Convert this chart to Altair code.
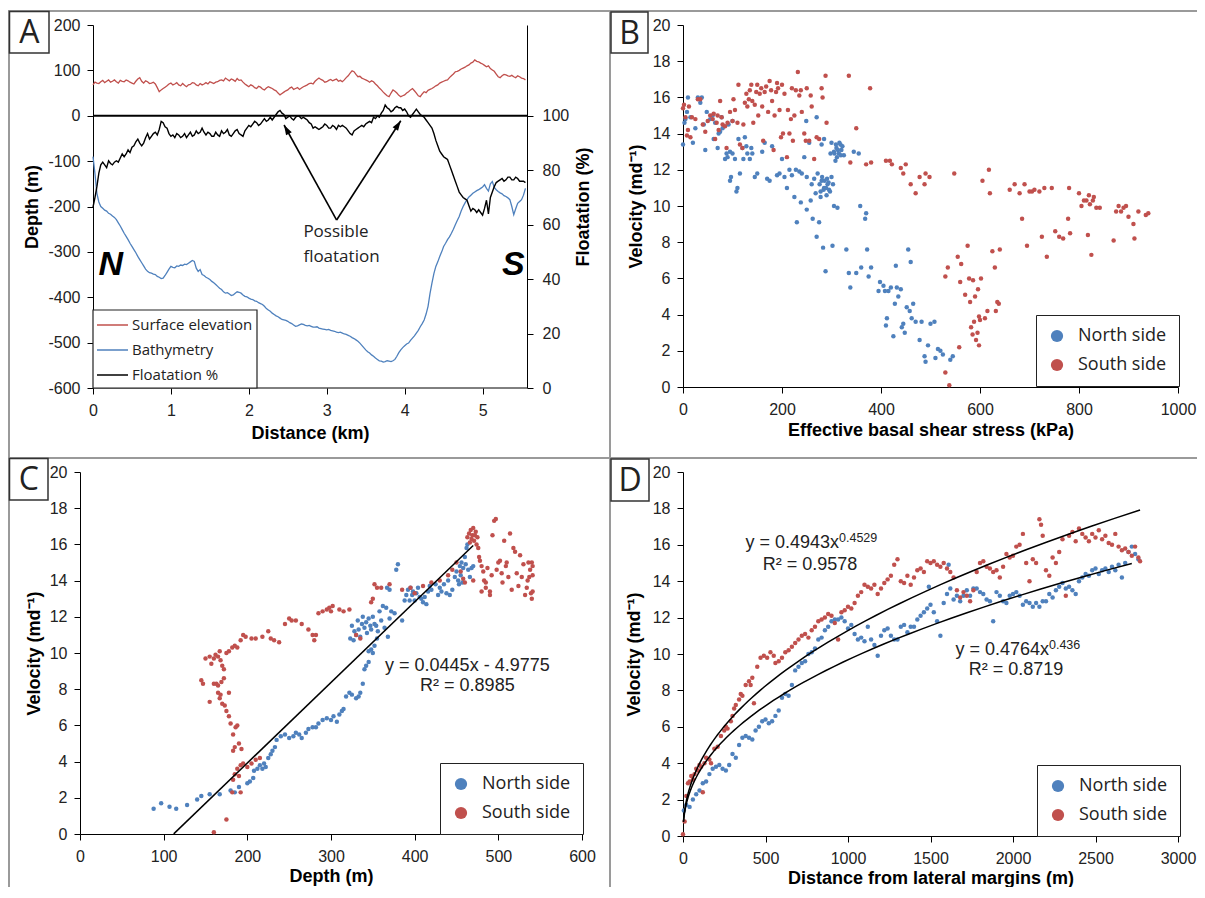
import altair as alt
import numpy as np
import pandas as pd

# ---------------- Panel A data (read from the profile) ----------------
dist_km = [0.000,0.025,0.050,0.075,0.100,0.125,0.150,0.175,0.200,0.225,0.250,0.275,0.300,0.325,0.350,0.375,0.400,0.425,0.450,0.475,
           0.500,0.525,0.550,0.575,0.600,0.625,0.650,0.675,0.700,0.725,0.750,0.775,0.800,0.825,0.850,0.875,0.900,0.925,0.950,0.975,
           1.000,1.025,1.050,1.075,1.100,1.125,1.150,1.175,1.200,1.225,1.250,1.275,1.300,1.325,1.350,1.375,1.400,1.425,1.450,1.475,
           1.500,1.525,1.550,1.575,1.600,1.625,1.650,1.675,1.700,1.725,1.750,1.775,1.800,1.825,1.850,1.875,1.900,1.925,1.950,1.975,
           2.000,2.025,2.050,2.075,2.100,2.125,2.150,2.175,2.200,2.225,2.250,2.275,2.300,2.325,2.350,2.375,2.400,2.425,2.450,2.475,
           2.500,2.525,2.550,2.575,2.600,2.625,2.650,2.675,2.700,2.725,2.750,2.775,2.800,2.825,2.850,2.875,2.900,2.925,2.950,2.975,
           3.000,3.025,3.050,3.075,3.100,3.125,3.150,3.175,3.200,3.225,3.250,3.275,3.300,3.325,3.350,3.375,3.400,3.425,3.450,3.475,
           3.500,3.525,3.550,3.575,3.600,3.625,3.650,3.675,3.700,3.725,3.750,3.775,3.800,3.825,3.850,3.875,3.900,3.925,3.950,3.975,
           4.000,4.025,4.050,4.075,4.100,4.125,4.150,4.175,4.200,4.225,4.250,4.275,4.300,4.325,4.350,4.375,4.400,4.425,4.450,4.475,
           4.500,4.525,4.550,4.575,4.600,4.625,4.650,4.675,4.700,4.725,4.750,4.775,4.800,4.825,4.850,4.875,4.900,4.925,4.950,4.975,
           5.000,5.025,5.050,5.075,5.100,5.125,5.150,5.175,5.200,5.225,5.250,5.275,5.300,5.325,5.350,5.375,5.400,5.425,5.450,5.475,
           5.500,5.525,5.550]
surface_m = [68,74,72,71,75,78,73,76,79,74,76,79,75,72,78,76,75,79,77,74,
             72,70,76,81,84,76,72,77,75,71,72,74,70,62,53,57,60,63,66,70,
             72,68,70,73,68,66,71,67,64,68,69,73,72,68,66,71,68,70,73,70,
             75,73,71,74,75,78,79,77,83,80,77,81,79,76,82,78,79,74,70,67,
             64,68,66,62,60,65,63,59,57,61,64,62,60,57,55,50,46,49,52,55,
             57,61,63,58,60,62,58,61,64,66,68,71,72,70,76,80,83,80,78,74,
             75,78,80,77,79,81,76,78,75,79,84,88,94,99,97,91,86,87,83,81,
             79,77,74,77,75,70,66,61,57,52,48,44,42,50,57,54,50,45,42,44,
             46,50,53,57,60,55,50,44,42,48,53,51,56,58,60,63,66,68,72,74,
             76,78,79,84,88,92,97,98,100,103,105,107,110,112,116,118,123,120,119,116,
             114,111,108,110,104,101,98,92,86,84,88,91,90,88,87,89,86,84,88,86,
             83,82,79]
bathymetry_m = [-90,-127,-171,-190,-200,-204,-208,-210,-215,-217,-221,-224,-229,-236,-243,-251,-259,-266,-273,-281,
                -288,-295,-302,-310,-317,-324,-331,-338,-343,-346,-347,-349,-350,-354,-356,-359,-358,-352,-345,-338,
                -332,-334,-335,-331,-332,-329,-330,-327,-328,-325,-322,-319,-321,-336,-343,-339,-350,-352,-356,-358,
                -361,-365,-368,-372,-376,-380,-383,-388,-391,-390,-393,-396,-395,-391,-388,-389,-391,-395,-398,-399,
                -402,-404,-405,-408,-409,-412,-414,-416,-420,-425,-428,-431,-435,-438,-441,-443,-446,-449,-450,-451,
                -453,-456,-458,-461,-464,-463,-461,-459,-460,-462,-463,-462,-464,-466,-466,-465,-468,-469,-470,-471,
                -472,-471,-473,-474,-475,-477,-478,-477,-479,-481,-482,-484,-486,-489,-491,-494,-497,-501,-506,-511,
                -516,-520,-523,-527,-530,-534,-537,-540,-541,-543,-542,-540,-541,-542,-540,-537,-530,-522,-516,-511,
                -507,-503,-501,-495,-490,-485,-479,-473,-465,-458,-450,-437,-420,-392,-369,-348,-332,-322,-310,-300,
                -288,-281,-273,-267,-259,-250,-240,-231,-222,-210,-200,-192,-185,-179,-175,-171,-168,-165,-163,-160,
                -157,-152,-160,-166,-150,-145,-158,-163,-167,-170,-172,-176,-178,-181,-185,-200,-218,-205,-193,-189,
                -185,-175,-160]
floatation_pct = [66.5,70,74,79,82,83,82,81,83.5,82.5,82,83,83.5,83,84.5,86,85,86,87.5,86.5,
                  88.5,89,90.5,91.5,90,89,90,92,93.5,91.5,92.5,93.5,94,93,95,98,97.5,96,95.5,93.5,
                  92.5,93,92,93.5,93,92,92.5,93.5,92,93,94,92.5,93,94.5,93.5,94,95.5,94,93,94,
                  93.5,92.5,92.5,94,93,92.5,94.5,93.5,94,95,93,92.5,93.5,94.5,95,93.5,93,92.5,94.5,95.5,
                  96.5,96,97,98,97.5,96.5,97,98,99,98,98.5,99.5,98.5,99.5,100.5,101.5,102,101,100.5,99,
                  99.5,100,99,98.5,99.5,100,99.8,99,99.5,99,98.5,97.5,97,95.5,96,95.5,95,95.5,96,97,
                  96.5,95.5,95.5,96.5,96,95,96.5,96,96.5,96,95.5,94.5,93.5,93,94.5,95,95.5,96,96.5,96,
                  97,97.5,98,97.5,99.5,99,100,99.5,101,102,104,103,102.5,101.5,102,103,103.5,103,103,102,
                  102.5,101.5,100,99.5,100.5,101.5,102.5,101.5,100.5,100,99.5,98.5,97.5,96.5,95.5,93.5,91,89,87,86,
                  85,84.5,84,82,80,78,76,74,72,71,70,69.5,69,67,65,66,65.5,64.5,65.5,64.5,
                  63.5,66,69,64,70,72,74,75.5,76,76.5,77,76,76.5,77.5,77.5,76.5,76.5,77.5,77,76,
                  76,76,75.5]

# ---------------- Panel B data: (effective basal shear stress kPa, velocity m/d) ----------------
b_north = [(0,13.4),(3,14.6),(5,14.8),(8,15.2),(10,16.0),(15,14.9),(20,13.5),(25,14.3),(30,16.0),(35,15.7),
           (38,16.0),(42,14.5),(45,13.1),(48,15.2),(55,14.8),(60,15.0),(62,13.7),(65,14.6),(70,13.2),(72,14.0),
           (75,14.1),(78,14.9),(80,14.3),(85,12.6),(88,12.9),(90,12.7),(92,14.5),(95,13.0),(95,11.4),(97,11.6),
           (100,12.9),(100,14.7),(105,12.6),(108,10.8),(110,11.0),(112,13.7),(115,11.8),(120,13.2),(122,12.6),(125,13.8),
           (128,13.3),(130,12.9),(135,12.6),(138,13.2),(140,12.9),(145,11.6),(150,11.8),(160,13.0),(165,13.5),(170,11.5),
           (175,11.4),(180,13.3),(190,11.7),(195,11.8),(200,12.6),(205,11.6),(210,11.0),(215,12.0),(220,11.7),(225,10.5),
           (228,12.0),(230,9.1),(235,11.9),(238,10.2),(240,11.8),(245,12.7),(249,14.7),(250,11.6),(250,9.8),(255,13.5),
           (258,10.3),(260,11.2),(262,9.3),(265,11.5),(268,10.7),(270,8.3),(270,14.9),(272,11.8),(275,9.1),(276,11.2),
           (278,10.8),(278,10.5),(280,11.4),(280,13.4),(281,11.6),(283,7.7),(284,10.9),(285,11.0),(285,13.7),(286,11.4),
           (288,6.4),(289,11.0),(290,10.6),(291,11.5),(292,11.2),(294,11.3),(295,10.9),(297,10.8),(298,12.9),(300,11.6),
           (300,13.5),(302,7.8),(303,11.2),(305,10.0),(305,13.0),(306,12.9),(308,12.5),(309,13.4),(310,13.2),(311,12.7),
           (312,9.9),(313,13.1),(315,12.9),(316,13.5),(318,13.4),(319,12.8),(320,13.1),(322,13.3),(325,12.8),(330,7.6),
           (335,6.3),(338,5.5),(345,13.0),(350,6.3),(355,12.9),(358,10.0),(360,6.6),(368,9.3),(370,9.6),(372,7.6),
           (375,6.1),(380,6.6),(395,5.3),(398,5.8),(405,5.6),(408,5.3),(410,3.4),(412,3.8),(415,5.3),(420,5.5),
           (425,2.8),(428,4.6),(430,6.7),(432,5.5),(435,5.0),(440,5.4),(442,3.3),(445,3.5),(448,3.0),(452,4.4),
           (455,7.6),(458,4.2),(460,6.9),(462,3.8),(465,4.6),(470,3.6),(478,2.6),(482,3.6),(488,1.7),(490,1.4),
           (495,2.3),(500,3.5),(508,3.6),(510,1.6),(515,2.1),(520,2.0),(525,1.8),(540,1.5),(545,1.7)]
b_south = [(0,15.4),(2,15.6),(5,14.9),(8,13.9),(10,14.2),(12,15.5),(15,13.8),(18,14.9),(25,14.8),(30,15.9),
           (35,15.9),(40,14.5),(45,14.1),(50,14.7),(55,15.0),(60,14.8),(62,15.1),(65,13.7),(68,14.6),(70,15.0),
           (72,14.2),(75,15.8),(78,14.9),(80,14.5),(85,14.4),(88,13.2),(90,14.6),(95,15.2),(100,14.7),(102,15.9),
           (105,15.3),(110,14.6),(112,16.7),(115,13.4),(120,13.2),(122,14.5),(125,15.7),(128,16.2),(130,15.5),(133,15.9),
           (135,16.4),(138,16.7),(140,15.8),(142,14.6),(145,15.6),(148,16.3),(150,16.7),(152,15.0),(155,16.2),(158,16.5),
           (160,15.5),(162,13.6),(165,16.3),(168,16.6),(172,15.2),(175,16.9),(178,16.4),(180,15.8),(183,13.1),(185,15.0),
           (188,16.3),(190,16.8),(192,16.5),(195,15.3),(198,13.8),(200,16.7),(202,14.0),(205,16.2),(210,12.7),(212,15.3),
           (215,14.0),(218,14.8),(220,16.5),(222,13.6),(225,15.0),(228,16.4),(232,17.4),(235,16.1),(238,16.4),(240,15.2),
           (245,14.0),(248,13.6),(250,16.5),(255,13.6),(258,16.1),(260,15.5),(265,12.6),(270,13.8),(275,13.7),(280,16.5),
           (282,16.0),(288,17.2),(290,14.6),(335,17.2),(338,12.4),(350,14.3),(370,12.3),(378,16.5),(380,12.4),(410,12.5),
           (418,12.5),(422,12.3),(440,12.1),(445,11.8),(450,12.3),(460,11.2),(470,10.7),(478,11.6),(488,11.2),(490,11.8),
           (498,11.6),(530,6.1),(535,6.6),(548,11.8),(555,7.2),(560,5.8),(562,6.8),(570,5.1),(575,7.8),(578,6.0),
           (580,4.7),(582,3.3),(585,2.9),(586,5.9),(588,3.6),(590,5.0),(592,2.6),(595,3.0),(596,5.4),(598,3.9),
           (600,3.7),(602,6.0),(598,2.3),(605,11.4),(610,3.8),(615,4.2),(618,12.0),(620,10.7),(625,7.5),(630,6.6),
           (632,4.2),(635,4.7),(638,4.6),(640,7.6),(660,10.9),(670,11.2),(680,10.7),(685,9.3),(690,11.2),(695,7.8),
           (700,10.8),(705,10.8),(710,10.9),(720,10.8),(725,8.3),(730,11.0),(735,7.2),(745,11.0),(752,8.6),(760,8.3),
           (768,8.2),(778,9.3),(780,11.0),(782,8.5),(800,10.7),(805,10.0),(810,10.3),(815,10.3),(818,8.4),(820,10.6),
           (822,10.1),(825,7.3),(828,10.3),(830,10.5),(835,9.9),(842,9.9),(870,8.1),(875,9.7),(880,10.0),(885,9.7),
           (890,9.9),(895,10.0),(900,9.4),(910,9.0),(912,8.2),(920,9.7),(935,9.5),(940,9.6),(538,0.1),(530,0.8),(558,2.2)]

# ---------------- Panel C data: (depth m, velocity m/d) ----------------
c_north = [(88,1.4),(97,1.7),(107,1.5),(115,1.4),(128,1.6),(140,1.9),(145,2.1),(155,2.2),(167,2.2),(180,2.4),
           (185,2.3),(190,2.6),(200,2.8),(203,2.9),(207,3.1),(208,3.5),(212,3.6),(215,3.8),(218,3.6),(220,3.9),
           (222,3.7),(225,4.2),(228,4.4),(230,4.6),(233,4.8),(235,5.2),(240,5.4),(245,5.5),(250,5.3),(255,5.4),
           (258,5.6),(262,5.5),(265,5.3),(270,5.6),(273,5.8),(278,5.9),(282,5.9),(285,6.1),(290,6.3),(295,6.4),
           (300,6.3),(303,6.5),(307,6.2),(310,6.6),(313,6.8),(315,6.9),(318,7.6),(322,7.8),(325,7.7),(330,7.5),
           (333,7.6),(335,7.8),(338,8.3),(340,9.1),(342,9.3),(345,9.5),(345,10.1),(348,10.2),(350,10.0),(352,10.4),
           (355,10.8),(323,10.8),(325,11.5),(327,10.7),(328,11.2),(330,11.0),(332,11.8),(333,11.3),(335,10.9),(337,11.6),
           (338,12.0),(340,11.4),(342,11.7),(343,11.1),(345,11.9),(347,11.5),(348,11.3),(350,12.0),(352,11.6),(354,11.5),
           (356,11.2),(358,12.3),(360,11.8),(362,12.6),(364,11.4),(366,12.5),(368,10.9),(370,11.9),(372,12.3),(376,12.2),
           (380,14.9),(378,14.6),(385,11.8),(388,12.9),(390,13.2),(392,13.5),(394,12.9),(395,13.6),(397,13.2),(398,13.4),
           (400,12.9),(402,13.3),(404,13.6),(406,13.1),(408,13.0),(410,12.8),(412,13.1),(414,12.7),(416,13.4),(418,13.7),
           (420,13.5),(425,13.8),(428,13.2),(430,13.6),(432,13.4),(435,13.8),(438,13.3),(440,14.0),(442,13.2),(445,13.5),
           (448,14.2),(450,14.5),(452,14.0),(454,14.8),(455,14.3),(456,15.0),(458,14.7),(460,15.3),(461,14.9),(462,15.8),
           (463,16.0),(464,14.6),(466,14.2),(468,14.7),(470,14.8),(457,13.9),(453,13.8),(370,13.5),(367,13.6)]
c_south = [(160,0.1),(175,0.8),(182,2.3),(192,2.3),(183,3.0),(185,3.3),(188,3.6),(190,3.2),(192,3.8),(195,3.9),
           (200,3.7),(205,3.9),(210,4.1),(215,4.2),(183,4.6),(185,4.8),(190,5.0),(193,4.7),(183,5.5),(186,5.9),
           (188,6.0),(180,6.1),(178,6.5),(175,6.8),(173,7.1),(170,7.2),(167,7.5),(165,7.8),(168,7.7),(178,7.8),
           (155,7.3),(160,8.3),(163,8.3),(165,8.2),(169,8.4),(172,8.6),(145,8.5),(147,8.3),(150,9.7),(155,9.8),
           (157,9.4),(160,9.7),(162,9.9),(165,9.8),(167,10.1),(168,9.6),(170,9.3),(172,9.1),(175,10.0),(178,10.1),
           (182,10.3),(185,10.4),(188,10.3),(192,10.7),(195,11.0),(198,10.9),(205,10.8),(210,10.8),(218,10.9),(225,11.2),
           (228,10.8),(232,10.7),(238,10.6),(245,11.6),(250,11.9),(253,11.8),(258,11.8),(265,11.6),(273,11.3),(278,11.0),
           (280,10.7),(282,11.0),(285,12.2),(290,12.3),(295,12.4),(298,12.5),(300,12.3),(302,12.6),(310,12.4),(315,12.3),
           (322,12.4),(330,11.0),(335,10.8),(348,12.8),(350,13.0),(352,13.8),(355,13.6),(360,13.6),(370,13.8),(385,13.5),
           (395,13.6),(400,13.3),(410,13.7),(420,13.9),(430,14.0),(440,14.3),(445,14.6),(450,15.0),(455,14.5),(458,14.1),
           (460,13.9),(463,16.4),(465,16.6),(466,16.1),(467,16.8),(468,16.3),(469,16.5),(470,16.9),(471,16.2),(472,16.5),
           (473,16.7),(474,16.0),(475,16.4),(476,15.8),(477,15.3),(478,15.1),(480,14.8),(482,14.5),(483,14.0),(485,13.6),
           (487,14.7),(490,13.4),(492,14.3),(493,16.5),(495,17.3),(497,17.4),(498,14.6),(500,15.0),(502,15.1),(504,14.4),
           (505,13.9),(507,16.2),(509,14.8),(510,15.0),(512,14.2),(514,16.6),(516,13.5),(518,15.8),(520,15.6),(522,14.4),
           (524,13.7),(526,15.4),(528,14.2),(530,14.9),(532,13.2),(534,13.6),(536,15.0),(538,14.6),(540,15.0),(541,14.3),
           (541,13.4),(540,13.0),(539,13.3),(541,14.8),(537,14.2),(535,14.0),(490,13.2),(480,13.4),(470,14.0),(485,13.9)]

# ---------------- Panel D data: (distance from lateral margin m, velocity m/d) ----------------
d_north = [(5,1.4),(20,1.7),(40,1.6),(60,2.0),(80,2.3),(100,2.5),(120,2.9),(140,3.0),(160,3.4),(180,3.7),
           (200,3.8),(220,3.9),(240,3.7),(260,3.6),(280,3.9),(300,4.5),(320,4.3),(340,5.0),(360,5.4),(380,5.5),
           (400,5.4),(420,5.3),(440,5.8),(460,6.0),(480,6.3),(500,6.4),(520,6.2),(540,6.3),(560,6.6),(580,6.9),
           (600,7.6),(620,7.8),(640,7.7),(660,8.3),(680,9.1),(700,9.3),(720,9.5),(740,9.6),(760,10.0),(780,10.1),
           (800,10.3),(820,10.8),(840,10.9),(860,11.3),(880,11.5),(900,11.8),(920,11.9),(940,11.9),(960,12.0),(980,11.8),
           (1000,11.4),(1020,11.6),(1040,11.1),(1060,10.8),(1080,10.9),(1100,10.7),(1120,11.5),(1140,10.8),(1160,10.5),(1180,9.9),
           (1200,11.0),(1220,11.3),(1240,11.4),(1260,11.0),(1280,10.8),(1300,10.8),(1320,11.5),(1340,11.6),(1360,11.2),(1380,11.5),
           (1400,11.5),(1420,11.9),(1440,12.1),(1460,12.3),(1480,12.5),(1490,13.7),(1500,12.7),(1520,12.3),(1540,11.8),(1560,11.0),
           (1580,12.8),(1600,13.3),(1610,14.9),(1620,13.6),(1640,13.0),(1660,13.2),(1680,12.9),(1700,13.2),(1720,13.5),(1740,13.2),
           (1760,13.6),(1780,13.6),(1800,13.4),(1820,13.3),(1840,13.0),(1860,12.9),(1880,11.8),(1900,13.4),(1920,13.2),(1940,12.9),
           (1960,12.8),(1980,13.2),(2000,13.3),(2020,13.4),(2040,13.2),(2060,12.7),(2080,12.9),(2100,12.8),(2120,12.6),(2140,12.8),
           (2160,12.6),(2180,12.9),(2200,12.9),(2220,13.3),(2240,13.1),(2260,13.5),(2280,13.7),(2300,13.9),(2320,13.6),(2340,13.7),
           (2360,13.5),(2380,13.3),(2400,14.0),(2420,14.2),(2440,14.4),(2460,14.3),(2480,14.6),(2500,14.7),(2520,14.4),(2540,14.6),
           (2560,14.7),(2580,14.5),(2600,14.8),(2620,14.6),(2640,14.9),(2660,14.2),(2680,15.0),(2700,15.6),(2720,15.9),(2740,15.5),
           (2760,15.2)]
d_south = [(0,0.1),(10,0.8),(20,2.2),(30,2.9),(40,3.0),(50,3.3),(60,3.1),(70,3.4),(80,3.7),(90,3.6),
           (100,3.9),(110,3.8),(120,2.4),(130,4.0),(140,4.3),(160,4.2),(170,4.0),(190,4.8),(210,4.9),(230,5.5),
           (250,5.8),(260,6.0),(270,5.9),(290,6.3),(300,6.6),(310,7.0),(320,7.2),(340,7.5),(350,7.8),(360,7.7),
           (380,8.3),(400,8.5),(410,8.3),(420,8.7),(430,7.3),(450,9.3),(470,9.8),(490,9.9),(510,9.8),(530,10.1),
           (550,9.9),(560,9.5),(580,9.6),(600,9.8),(620,10.1),(640,10.2),(660,10.4),(680,10.6),(700,10.8),(720,11.0),
           (740,11.1),(760,10.9),(780,11.3),(800,11.5),(820,11.8),(840,11.9),(860,12.0),(880,12.2),(900,12.1),(920,11.7),
           (940,10.8),(960,12.3),(980,12.4),(1000,12.6),(1020,12.5),(1040,12.8),(1060,13.2),(1080,13.4),(1100,13.8),(1120,13.7),
           (1140,13.6),(1160,13.8),(1180,13.3),(1200,13.6),(1220,13.9),(1240,14.1),(1260,14.3),(1280,14.9),(1300,15.2),(1320,14.0),
           (1340,13.9),(1360,14.3),(1380,13.8),(1400,14.2),(1420,14.6),(1440,14.7),(1460,14.5),(1480,15.1),(1500,15.0),(1520,15.1),
           (1540,14.9),(1560,14.8),(1580,15.0),(1600,14.7),(1620,14.5),(1640,14.2),(1660,13.5),(1680,13.1),(1700,13.4),(1720,13.2),
           (1740,12.9),(1760,13.5),(1780,14.5),(1800,15.0),(1820,15.1),(1840,14.8),(1860,14.7),(1880,14.5),(1900,14.6),(1920,14.2),
           (1940,14.8),(1960,15.5),(1980,15.3),(2000,15.4),(2020,15.9),(2040,16.0),(2060,16.6),(2080,15.0),(2100,14.0),(2120,15.2),
           (2140,15.0),(2160,17.4),(2170,17.1),(2180,16.5),(2200,14.6),(2220,14.3),(2240,15.3),(2260,15.0),(2280,15.6),(2300,16.3),
           (2320,13.2),(2340,16.5),(2360,16.7),(2380,16.2),(2400,16.9),(2420,16.6),(2440,16.4),(2460,16.2),(2480,16.6),(2500,16.4),
           (2520,16.8),(2540,16.3),(2560,16.5),(2580,16.1),(2600,16.0),(2620,16.6),(2640,15.9),(2660,15.7),(2680,15.8),(2700,15.6),
           (2720,15.4),(2740,15.9),(2760,15.3),(2770,15.1)]

# fitted relations printed on panels C and D
c_fit_slope, c_fit_icpt, c_fit_range = 0.0445, -4.9775, [112, 470]
d_fit_south = (0.4943, 0.4529, 2770)
d_fit_north = (0.4764, 0.436, 2720)

# tick values
a_x_ticks = [0, 1, 2, 3, 4, 5]
a_y_ticks = [-600, -500, -400, -300, -200, -100, 0, 100, 200]
a_r_ticks = [0, 20, 40, 60, 80, 100]
vel_ticks = [0, 2, 4, 6, 8, 10, 12, 14, 16, 18, 20]
b_x_ticks = [0, 200, 400, 600, 800, 1000]
c_x_ticks = [0, 100, 200, 300, 400, 500, 600]
d_x_ticks = [0, 500, 1000, 1500, 2000, 2500, 3000]

# legend entries for panel A
a_series = ["Surface elevation", "Bathymetry", "Floatation %"]

# ---------------- styling ----------------
BLUE, RED = "#4F81BD", "#C0504D"
FONT, LFONT, TXT = "Liberation Sans", "Open Sans", "#222222"
FRAME = "#9a9a9a"
A_W, A_H = 447, 363
B_W, B_H = 495, 362
C_W, C_H = 502, 362
D_W, D_H = 495, 364
VEL_TITLE = "Velocity (md\u207b\u00b9)"


def mk_axis(values, title, orient, tx, ty, pad, angle, baseline, **extra):
    return alt.Axis(values=values, title=title, orient=orient, grid=False,
                    domainColor="black", domainWidth=1, tickColor="black", tickWidth=1, tickSize=6,
                    labelFont=FONT, labelFontSize=16, labelColor=TXT, labelPadding=pad,
                    labelFlush=False, labelExpr="'' + datum.value",
                    titleFont=FONT, titleFontSize=18, titleFontWeight="bold", titleColor="black",
                    titleX=tx, titleY=ty, titleAngle=angle, titleBaseline=baseline, titleAlign="center",
                    **extra)


def left_axis(values, title, h, tx, **extra):
    return mk_axis(values, title, "left", tx, h / 2, 7, 270, "bottom", **extra)


def bottom_axis(values, title, cx, ty, **extra):
    return mk_axis(values, title, "bottom", cx, ty, 8, 0, "alphabetic", **extra)


one = pd.DataFrame({"k": [0]})


def prect(x1, x2, y1, y2, **mk):
    return alt.Chart(one).mark_rect(**mk).encode(
        x=alt.value(x1), x2=alt.value(x2), y=alt.value(y1), y2=alt.value(y2))


def label_box(x1, x2, y1, y2, letter):
    box = prect(x1, x2, y1, y2, fill="white", stroke="#333333", strokeWidth=1.5)
    txt = alt.Chart(one).mark_text(text=letter, font=LFONT, fontSize=32, color=TXT,
                                   align="center", baseline="middle").encode(
        x=alt.value((x1 + x2) / 2), y=alt.value((y1 + y2) / 2 + 1))
    return [box, txt]


side_scale = alt.Scale(domain=["North side", "South side"], range=[BLUE, RED])


def side_legend(lx, ly):
    return alt.Legend(title=None, orient="none", legendX=lx, legendY=ly, direction="vertical",
                      fillColor="white", strokeColor="#222222", padding=12,
                      symbolType="circle", symbolSize=150, symbolStrokeWidth=0, symbolOpacity=1,
                      labelFont=LFONT, labelFontSize=18, labelColor=TXT, labelOffset=12, rowPadding=11)


def side_df(north, south, xname):
    rows = [(x, y, "North side") for x, y in north] + [(x, y, "South side") for x, y in south]
    return pd.DataFrame(rows, columns=[xname, "vel", "side"])


# ---------------- Panel A ----------------
xA = alt.X("km:Q", scale=alt.Scale(domain=[-0.16684, 5.57], nice=False, zero=False),
           axis=bottom_axis(a_x_ticks, "Distance (km)", 230, 50, domain=False))
yA = alt.Y("val:Q", scale=alt.Scale(domain=[-600, 200], nice=False, zero=False),
           axis=left_axis(a_y_ticks, "Depth (m)", A_H, -52, offset=-13))
yR = alt.Y("flt:Q", scale=alt.Scale(domain=[0, 133.4], nice=False, zero=False),
           axis=mk_axis(a_r_ticks, "Floatation (%)", "right", 47, A_H / 2, 9, 270, "top"))
series_scale = alt.Scale(domain=a_series, range=[RED, BLUE, "black"])
colA = alt.Color("series:N", scale=series_scale, legend=None)

lines_df = pd.concat([
    pd.DataFrame({"km": dist_km, "val": surface_m, "series": "Surface elevation"}),
    pd.DataFrame({"km": dist_km, "val": bathymetry_m, "series": "Bathymetry"}),
])
flt_df = pd.DataFrame({"km": dist_km, "flt": floatation_pct, "series": "Floatation %"})

a_lines = alt.Chart(lines_df).mark_line(strokeWidth=1.3).encode(x=xA, y=yA, color=colA, detail="series:N")
a_zero = alt.Chart(pd.DataFrame({"km": [0], "km2": [5.57], "val": [0]})).mark_rule(
    color="black", strokeWidth=1.8).encode(x=xA, x2="km2:Q", y=yA)
a_base = alt.Chart(pd.DataFrame({"km": [0], "km2": [5.57], "val": [-600]})).mark_rule(
    color="black", strokeWidth=1).encode(x=xA, x2="km2:Q", y=yA)
arrow_df = pd.DataFrame({"km": [3.127, 3.127], "val": [-229.8, -229.8],
                         "km2": [2.452, 3.95], "val2": [-20.4, -10.9]})
a_arrows = alt.Chart(arrow_df).mark_rule(color="black", strokeWidth=1.6).encode(
    x=xA, y=yA, x2="km2:Q", y2="val2:Q")
head_df = pd.DataFrame({"km": [2.452, 3.95], "val": [-20.4, -10.9], "ang": [331, 33]})
a_heads = alt.Chart(head_df).mark_point(shape="M0,0L-0.65,2L0.65,2Z", filled=True, size=100,
                                        color="black", opacity=1).encode(
    x=xA, y=yA, angle=alt.Angle("ang:Q", scale=None))
ann_df = pd.DataFrame({"km": [2.70, 2.70], "val": [-267, -322], "txt": ["Possible", "floatation"]})
a_ann = alt.Chart(ann_df).mark_text(font=LFONT, fontSize=17, color=TXT, align="left",
                                    baseline="alphabetic").encode(x=xA, y=yA, text="txt:N")
ns_df = pd.DataFrame({"km": [0.07, 5.25], "val": [-351, -351], "txt": ["N", "S"]})
a_ns = alt.Chart(ns_df).mark_text(font=FONT, fontSize=34, fontWeight="bold", fontStyle="italic",
                                  color="black", align="left", baseline="alphabetic").encode(
    x=xA, y=yA, text="txt:N")

# boxed key of panel A (line swatches coloured through the series scale)
key_df = pd.DataFrame({"series": a_series, "row": [0, 1, 2]})
key_box = prect(13, 177, 285, 363, fill="white", stroke="#222222", strokeWidth=1.2)
key_y = alt.Y("row:O", scale=alt.Scale(domain=[0, 1, 2], range=[300, 350]), axis=None)
key_lines = alt.Chart(key_df).mark_rule(strokeWidth=1.5).encode(
    x=alt.value(17), x2=alt.value(48),
    y=alt.Y("row:Q", scale=alt.Scale(domain=[0, 2], range=[300, 350]), axis=None),
    color=colA)
key_text = alt.Chart(key_df).mark_text(font=LFONT, fontSize=15, color=TXT, align="left",
                                       baseline="middle").encode(
    x=alt.value(52),
    y=alt.Y("row:Q", scale=alt.Scale(domain=[0, 2], range=[300, 350]), axis=None),
    text="series:N")

# figure frame (grey panel separators), drawn relative to panel A's plot origin
frames = [
    prect(-72, 1117, -15, -13, fill=FRAME),     # top line
    prect(-72, -70, -15, 862, fill=FRAME),      # left edge
    prect(529, 531, -15, 862, fill=FRAME),      # vertical divider
    prect(-72, 1117, 432, 434, fill=FRAME),     # horizontal divider
]

left_group = alt.layer(a_lines, a_zero, a_base, a_arrows, a_heads, a_ann, a_ns,
                       *frames, *label_box(-70.5, -31, -13.5, 28, "A"))
right_group = alt.layer(
    alt.Chart(flt_df).mark_line(strokeWidth=1.4).encode(x=xA, y=yR, color=colA))
key_group = alt.layer(key_box, key_lines, key_text)
panelA = alt.layer(left_group, right_group, key_group).resolve_scale(y="independent").properties(
    width=A_W, height=A_H)

# ---------------- Panel B ----------------
dfB = side_df(b_north, b_south, "stress")
ptsB = alt.Chart(dfB).mark_circle(size=20, opacity=1).encode(
    x=alt.X("stress:Q", scale=alt.Scale(domain=[0, 1000], nice=False),
            axis=bottom_axis(b_x_ticks, "Effective basal shear stress (kPa)", B_W / 2, 48)),
    y=alt.Y("vel:Q", scale=alt.Scale(domain=[0, 20], nice=False),
            axis=left_axis(vel_ticks, VEL_TITLE, B_H, -38)),
    color=alt.Color("side:N", scale=side_scale, legend=side_legend(353, 290)))
panelB = alt.layer(ptsB, *label_box(-72, -35, -13, 28, "B")).properties(width=B_W, height=B_H)

# ---------------- Panel C ----------------
dfC = side_df(c_north, c_south, "depth")
xC = alt.X("depth:Q", scale=alt.Scale(domain=[0, 600], nice=False),
           axis=bottom_axis(c_x_ticks, "Depth (m)", C_W / 2, 47))
yC = alt.Y("vel:Q", scale=alt.Scale(domain=[0, 20], nice=False),
           axis=left_axis(vel_ticks, VEL_TITLE, C_H, -37))
ptsC = alt.Chart(dfC).mark_circle(size=20, opacity=1).encode(
    x=xC, y=yC, color=alt.Color("side:N", scale=side_scale, legend=side_legend(360, 291)))
fitC_df = pd.DataFrame({"depth": c_fit_range,
                        "vel": [c_fit_slope * v + c_fit_icpt for v in c_fit_range]})
fitC = alt.Chart(fitC_df).mark_line(color="black", strokeWidth=1.5).encode(x=xC, y=yC)
eqC_df = pd.DataFrame({"depth": [463, 463], "vel": [9.03, 7.92],
                       "txt": ["y = 0.0445x - 4.9775", "R\u00b2 = 0.8985"]})
eqC = alt.Chart(eqC_df).mark_text(font=FONT, fontSize=18, color=TXT, align="center",
                                  baseline="alphabetic").encode(x=xC, y=yC, text="txt:N")
panelC = alt.layer(ptsC, fitC, eqC, *label_box(-70.5, -32, -13.5, 28, "C")).properties(
    width=C_W, height=C_H)

# ---------------- Panel D ----------------
dfD = side_df(d_north, d_south, "dist")
xD = alt.X("dist:Q", scale=alt.Scale(domain=[0, 3000], nice=False),
           axis=bottom_axis(d_x_ticks, "Distance from lateral margins (m)", D_W / 2, 47))
yD = alt.Y("vel:Q", scale=alt.Scale(domain=[0, 20], nice=False),
           axis=left_axis(vel_ticks, VEL_TITLE, D_H, -40))
ptsD = alt.Chart(dfD).mark_circle(size=20, opacity=1).encode(
    x=xD, y=yD, color=alt.Color("side:N", scale=side_scale, legend=side_legend(354, 293)))
curve_rows = []
for name, (a, b, xmax) in [("south", d_fit_south), ("north", d_fit_north)]:
    for xv in np.geomspace(3, xmax, 120):
        curve_rows.append((float(xv), a * float(xv) ** b, name))
curves_df = pd.DataFrame(curve_rows, columns=["dist", "vel", "fit"])
curvesD = alt.Chart(curves_df).mark_line(color="black", strokeWidth=1.5).encode(
    x=xD, y=yD, detail="fit:N")
eq_main = pd.DataFrame({"dist": [945.5, 2218], "vel": [15.82, 9.95],
                        "txt": ["y = 0.4943x", "y = 0.4764x"]})
eq_sup = pd.DataFrame({"dist": [945.5, 2218], "vel": [15.82, 9.95], "txt": ["0.4529", "0.436"]})
eq_r2 = pd.DataFrame({"dist": [770, 2018], "vel": [14.62, 8.85],
                      "txt": ["R\u00b2 = 0.9578", "R\u00b2 = 0.8719"]})
eqD1 = alt.Chart(eq_main).mark_text(font=FONT, fontSize=18, color=TXT, align="right",
                                    baseline="alphabetic").encode(x=xD, y=yD, text="txt:N")
eqD2 = alt.Chart(eq_sup).mark_text(font=FONT, fontSize=12.5, color=TXT, align="left",
                                   baseline="alphabetic", dy=-6).encode(x=xD, y=yD, text="txt:N")
eqD3 = alt.Chart(eq_r2).mark_text(font=FONT, fontSize=18, color=TXT, align="center",
                                  baseline="alphabetic").encode(x=xD, y=yD, text="txt:N")
panelD = alt.layer(ptsD, curvesD, eqD1, eqD2, eqD3, *label_box(-72, -34, -13, 29, "D")).properties(
    width=D_W, height=D_H)

chart = alt.concat(panelA, panelB, panelC, panelD, columns=2,
                   spacing={"row": 83, "column": 101}, bounds="flush", align="all").resolve_scale(
    color="independent").properties(
    padding={"left": 0, "top": 2, "right": 0, "bottom": 0}).configure_view(stroke=None)

chart.save("out.html", embed_options={"renderer": "svg", "actions": False})
